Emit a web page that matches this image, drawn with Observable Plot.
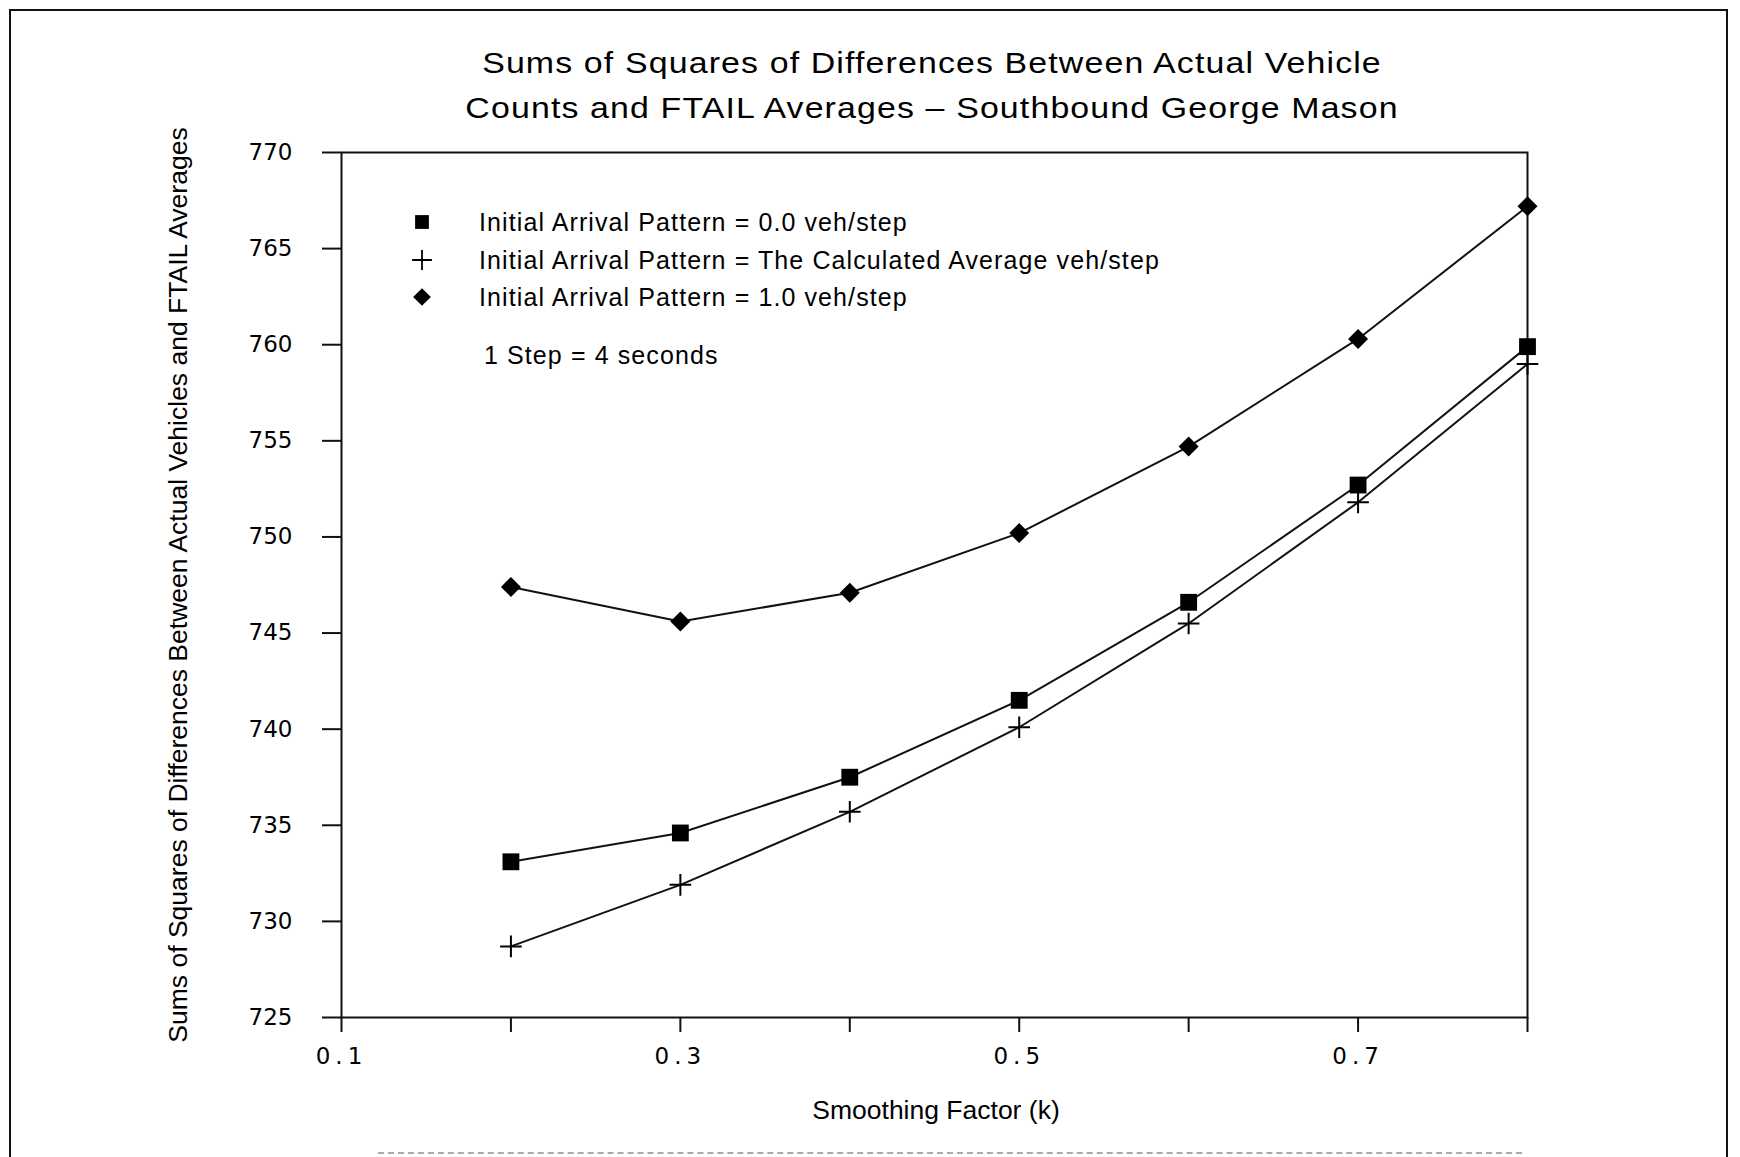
<!DOCTYPE html>
<html>
<head>
<meta charset="utf-8">
<script src="https://cdn.jsdelivr.net/npm/d3@7"></script>
<script src="https://cdn.jsdelivr.net/npm/@observablehq/plot@0.6"></script>
<style>
  html, body { margin: 0; padding: 0; background: #fff; }
  #wrap { position: relative; width: 1740px; height: 1157px; overflow: hidden; background: #fff; font-family: "Liberation Sans", Arial, sans-serif; color: #000; }
  #frame { position: absolute; left: 9px; top: 9px; width: 1719px; height: 1170px; border: 2px solid #111; border-bottom: none; box-sizing: border-box; }
  #scanline { position: absolute; left: 378px; top: 1152px; width: 1144px; height: 0; border-top: 2px dashed #aaa; }
  #chart { position: absolute; left: 0; top: 0; }
  .title { position: absolute; text-align: center; font-size: 30px; letter-spacing: 1px; line-height: 1; white-space: nowrap; transform: translate(-50%, -50%) scaleX(1.13); }
  .ylab { position: absolute; left: 178px; top: 585px; transform: translate(-50%, -50%) rotate(-90deg); font-size: 26.5px; white-space: nowrap; }
  .xlab { position: absolute; left: 936px; top: 1110px; transform: translate(-50%, -50%); font-size: 26.5px; white-space: nowrap; }
  .leg { position: absolute; font-size: 25px; letter-spacing: 1.1px; white-space: nowrap; transform: translateY(-50%); }
  .legsym { position: absolute; transform: translate(-50%, -50%); line-height: 0; }
</style>
</head>
<body>
<div id="wrap">
  <div id="frame"></div>
  <div id="scanline"></div>
  <div id="chart"></div>
</div>
<script>
// ---- data ----
const smoothing = [0.2, 0.3, 0.4, 0.5, 0.6, 0.7, 0.8];
const pattern00 = [733.1, 734.6, 737.5, 741.5, 746.6, 752.7, 759.9];
const patternAvg = [728.7, 731.9, 735.7, 740.1, 745.5, 751.8, 759.0];
const pattern10 = [747.4, 745.6, 747.1, 750.2, 754.7, 760.3, 767.2];
const seriesNames = [
  "Initial Arrival Pattern = 0.0 veh/step",
  "Initial Arrival Pattern = The Calculated Average veh/step",
  "Initial Arrival Pattern = 1.0 veh/step"
];
const seriesSymbols = ["square", "plus", "diamond2"];
const xTicks = [0.1, 0.2, 0.3, 0.4, 0.5, 0.6, 0.7, 0.8];
const xTickLabels = ["0.1", "0.3", "0.5", "0.7"];
const yTicks = [725, 730, 735, 740, 745, 750, 755, 760, 765, 770];
const titleLines = [
  "Sums of Squares of Differences Between Actual Vehicle",
  "Counts and FTAIL Averages – Southbound George Mason"
];
const yLabel = "Sums of Squares of Differences Between Actual Vehicles and FTAIL Averages";
const xLabel = "Smoothing Factor (k)";
const note = "1 Step = 4 seconds";

const allSeries = [pattern00, patternAvg, pattern10];
const rows = [];
allSeries.forEach((vals, si) => vals.forEach((v, i) => rows.push({k: smoothing[i], v, s: seriesNames[si], sym: seriesSymbols[si]})));

const tickFont = "'DejaVu Sans', Verdana, sans-serif";

const plot = Plot.plot({
  width: 1740,
  height: 1157,
  marginLeft: 341,
  marginRight: 213,
  marginTop: 152,
  marginBottom: 140,
  style: {background: "transparent", overflow: "visible"},
  x: {domain: [0.1, 0.8]},
  y: {domain: [725, 770]},
  marks: [
    Plot.frame({stroke: "#111", strokeWidth: 2}),
    Plot.axisY({ticks: yTicks, tickSize: 19, tickPadding: 30, tickFormat: d => String(d), label: null,
      fontSize: 23, fontFamily: tickFont, stroke: "#111", strokeWidth: 2}),
    Plot.axisX({ticks: xTicks, tickSize: 15, tickPadding: 15,
      tickFormat: d => { const s = d.toFixed(1); return xTickLabels.includes(s) ? s : ""; },
      label: null, fontSize: 23, fontFamily: tickFont, stroke: "#111", strokeWidth: 2}),
    Plot.line(rows, {x: "k", y: "v", z: "s", stroke: "#111", strokeWidth: 2}),
    Plot.dot(rows.filter(d => d.sym === "square"), {x: "k", y: "v", symbol: "square", r: 9.5, fill: "#000", stroke: "none"}),
    Plot.dot(rows.filter(d => d.sym === "diamond2"), {x: "k", y: "v", symbol: "diamond2", r: 9, fill: "#000", stroke: "none"}),
    Plot.dot(rows.filter(d => d.sym === "plus"), {x: "k", y: "v", symbol: "plus", r: 7, stroke: "#000", strokeWidth: 2, fill: "none"})
  ]
});
plot.querySelectorAll("[aria-label='x-axis tick label'] text").forEach(t => t.setAttribute("letter-spacing", "5"));
document.getElementById("chart").appendChild(plot);

const wrap = document.getElementById("wrap");
function addDiv(cls, text, css) {
  const d = document.createElement("div");
  d.className = cls;
  d.textContent = text;
  Object.assign(d.style, css || {});
  wrap.appendChild(d);
  return d;
}
const titleY = [63, 108];
titleLines.forEach((t, i) => addDiv("title", t, {top: titleY[i] + "px", left: "932px"}));
addDiv("ylab", yLabel);
addDiv("xlab", xLabel);

// legend
const legY = [222, 260, 297];
const legTypes = [d3.symbolSquare, d3.symbolPlus, d3.symbolDiamond2];
const legSizes = [190, 130, 200];
seriesNames.forEach((name, i) => {
  addDiv("leg", name, {left: "479px", top: legY[i] + "px"});
  const sym = document.createElement("div");
  sym.className = "legsym";
  sym.style.left = "422px";
  sym.style.top = legY[i] + "px";
  const s = d3.create("svg").attr("width", 26).attr("height", 26);
  s.append("path").attr("d", d3.symbol().type(legTypes[i]).size(legSizes[i])()).attr("transform", "translate(13,13)")
    .attr("fill", i === 1 ? "none" : "#000").attr("stroke", i === 1 ? "#000" : "none").attr("stroke-width", 1.8);
  sym.appendChild(s.node());
  wrap.appendChild(sym);
});
addDiv("leg", note, {left: "484px", top: "355px"});
</script>
</body>
</html>
